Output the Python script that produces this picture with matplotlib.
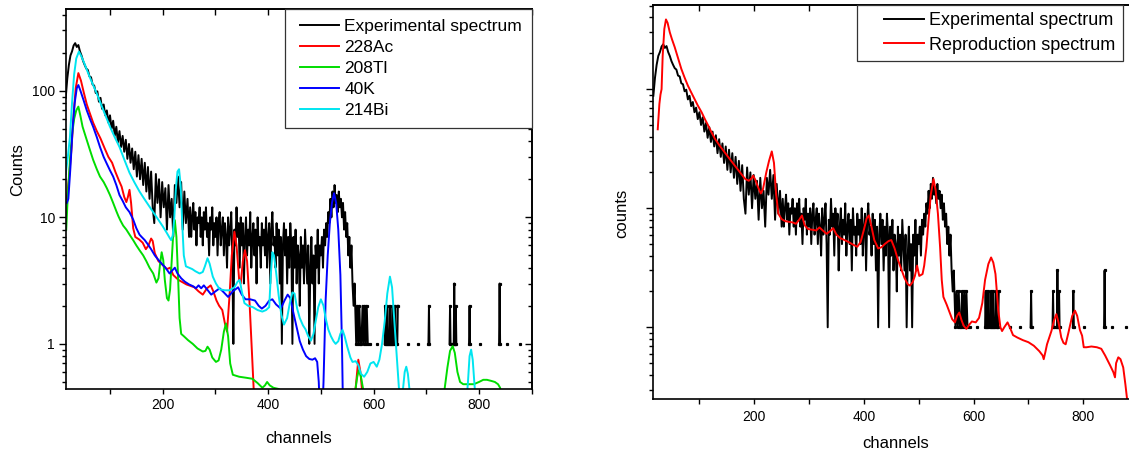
import numpy as np
import matplotlib
matplotlib.use("Agg")
import matplotlib.pyplot as plt
from matplotlib.ticker import MultipleLocator, FormatStrFormatter, NullFormatter
from matplotlib.legend_handler import HandlerLine2D
from matplotlib.lines import Line2D

plt.rcParams['font.family'] = ['Liberation Sans', 'DejaVu Sans']

# ---- experimental spectrum (counts) ----
# every 3rd channel from 16 to 250
exp_ch_a = np.arange(16, 251, 3)
exp_counts_a = [
    88, 125, 160, 190, 205, 228, 238, 222, 230, 205,
    190, 172, 160, 150, 146, 130, 128, 112, 110, 96,
    99, 82, 88, 72, 78, 64, 70, 56, 64, 50,
    58, 44, 52, 39, 48, 36, 44, 33, 41, 29,
    38, 27, 35, 24, 33, 21, 31, 20, 29, 18,
    27, 16, 25, 14, 23, 12, 9, 22, 13, 20,
    10, 19, 12, 17, 8, 18, 10, 14, 7, 18,
    13, 21, 12, 19, 8, 16, 9, 14, 7,
]
# every 2nd channel from 252 to 564
exp_ch_b = np.arange(252, 565, 2)
exp_counts_b = [
    12, 7, 10, 13, 8, 11, 6, 10, 9, 12,
    7, 10, 6, 11, 8, 12, 7, 9, 5, 10,
    8, 12, 6, 9, 7, 10, 5, 9, 11, 6,
    8, 10, 5, 9, 7, 4, 10, 6, 8, 11,
    5, 1, 8, 6, 12, 7, 9, 4, 10, 6,
    9, 3, 7, 10, 5, 8, 6, 11, 4, 7,
    9, 5, 8, 3, 10, 6, 7, 4, 9, 6,
    8, 5, 10, 4, 7, 9, 3, 8, 11, 6,
    7, 4, 9, 5, 8, 3, 7, 1, 6, 9,
    5, 8, 3, 7, 4, 9, 6, 1, 7, 4,
    8, 3, 6, 5, 2, 7, 4, 6, 3, 8,
    5, 3, 6, 1, 4, 7, 3, 5, 1, 6,
    4, 8, 3, 6, 5, 7, 4, 8, 6, 9,
    7, 11, 9, 14, 10, 16, 12, 18, 13, 15,
    11, 16, 12, 14, 10, 13, 8, 11, 7, 9,
    5, 7, 4, 6, 3, 2, 3,
]
# sparse tail (0 = empty channel)
exp_tail_channels = [567, 569, 571, 573, 575, 577, 579, 581, 583, 585, 587, 589, 590,
                     593, 594, 595, 606, 607, 608,
                     620, 621, 622, 623, 625, 626, 627, 628, 630, 631, 632, 633,
                     635, 636, 637, 638, 640, 641, 642, 643, 645, 646, 647,
                     665, 666, 667, 684, 685, 686,
                     703, 704, 705, 706, 707,
                     743, 744, 745, 746, 747, 751, 752, 753, 754, 755, 756, 757, 758,
                     780, 781, 782, 783, 784, 800, 801, 802,
                     837, 838, 839, 840, 841, 852, 853, 854, 877, 878, 879]
exp_tail_counts = [1, 2, 1, 2, 1, 1, 2, 1, 2, 1, 2, 1, 0,
                   0, 1, 0, 0, 1, 0,
                   0, 1, 2, 1, 1, 2, 1, 0, 1, 2, 1, 1,
                   1, 2, 1, 0, 1, 2, 1, 1, 1, 2, 0,
                   0, 1, 0, 0, 1, 0,
                   0, 1, 2, 1, 0,
                   0, 1, 2, 1, 0, 1, 1, 3, 1, 1, 2, 1, 0,
                   0, 1, 2, 1, 0, 0, 1, 0,
                   0, 1, 3, 1, 0, 0, 1, 0, 0, 1, 0]

# ---- component spectra ----
ac228_ch = [18, 22, 27, 31, 35, 40, 45, 50, 56, 62, 68, 75, 82, 90, 97, 104, 110, 117,
            122, 127, 131, 134, 137, 140, 144, 148, 155, 162, 168, 173, 178, 181, 185,
            192, 200, 208, 214, 220, 230, 245, 260, 268, 276, 284, 291, 296, 302, 307,
            313, 318, 322, 327, 331, 336, 340, 345, 348, 352, 356, 360, 365, 369, 373,
            378, 560, 566, 571, 575, 580, 584]
ac228 = [14, 20, 35, 65, 105, 138, 120, 98, 78, 66, 56, 48, 42, 35, 30, 27, 23, 19.5,
         17.5, 14.5, 13.2, 14.5, 16.5, 13, 8.2, 7, 6.7, 6.3, 5.6, 6.0, 6.8, 6.5, 5.2,
         4.5, 4.2, 3.9, 4.0, 3.5, 3.2, 2.95, 2.8, 2.6, 2.45, 2.75, 2.9, 2.6, 2.2, 2.0,
         1.85, 1.45, 1.25, 2.5, 5.0, 7.7, 6.0, 3.2, 3.0, 4.5, 5.5, 4.5, 2.0, 0.9, 0.4,
         0.2, 0.2, 0.45, 0.75, 0.6, 0.35, 0.2]

tl208_ch = [17, 20, 24, 28, 32, 36, 40, 44, 48, 55, 62, 68, 75, 81, 88, 94, 100, 106,
            112, 116, 120, 125, 131, 138, 144, 150, 156, 163, 169, 175, 182, 188, 192,
            195, 198, 201, 204, 208, 211, 214, 217, 220, 223, 226, 229, 232, 235, 240,
            248, 257, 266, 276, 281, 285, 289, 294, 301, 306, 311, 316, 320, 324, 328,
            333, 345, 358, 370, 380, 389, 394, 398, 403, 410, 420, 426, 430, 560, 565,
            569, 572, 576, 581, 585, 731, 735, 740, 745, 750, 754, 759, 764, 770, 780,
            790, 800, 808, 815, 823, 830, 836, 840, 844]
tl208 = [8, 15, 28, 45, 60, 70, 75, 63, 52, 42, 34, 28.5, 24, 21, 19, 17, 15, 13,
         11.2, 10.2, 9.4, 8.6, 8.0, 7.2, 6.6, 6.0, 5.5, 5.0, 4.5, 4.0, 3.6, 3.05, 3.3,
         4.3, 5.3, 4.6, 3.2, 2.3, 2.2, 2.7, 4.5, 7.5, 9.5, 7, 3.5, 1.6, 1.2, 1.15,
         1.07, 1.0, 0.92, 0.87, 0.88, 0.95, 0.9, 0.78, 0.72, 0.74, 0.9, 1.25, 1.45, 1.15, 0.7,
         0.57, 0.55, 0.54, 0.53, 0.49, 0.45, 0.47, 0.5, 0.47, 0.45, 0.44, 0.42, 0.3, 0.3, 0.42,
         0.55, 0.62, 0.55, 0.42, 0.3, 0.3, 0.45, 0.65, 0.88, 0.96, 0.85, 0.6, 0.5, 0.48, 0.48,
         0.48, 0.5, 0.52, 0.52, 0.51, 0.5, 0.48, 0.45, 0.3]

k40_ch = [18, 21, 25, 29, 33, 37, 40, 44, 50, 56, 62, 68, 75, 81, 88, 94, 100, 106, 112,
          118, 124, 130, 137, 144, 150, 156, 160, 166, 172, 178, 185, 192, 198, 204, 209,
          213, 218, 223, 228, 235, 242, 250, 258, 263, 268, 273, 278, 284, 292, 300, 308,
          316, 324, 333, 343, 350, 357, 366, 375, 382, 388, 395, 402, 408, 415, 424, 431,
          437, 442, 448, 455, 460, 466, 472, 478, 484, 489, 493, 496, 498, 503, 505, 509,
          513, 517, 521, 525, 529, 533, 537, 540, 542]
k40 = [13, 14, 25, 50, 80, 105, 111, 100, 84, 70, 60, 52, 43, 36, 30, 26.5, 23.5, 21, 18,
       15, 13.5, 12, 11, 9.6, 8.2, 7.3, 7.0, 6.6, 6.1, 5.6, 5.0, 4.6, 4.3, 4.05, 3.8,
       3.6, 3.8, 4.0, 3.6, 3.3, 3.1, 2.95, 2.85, 2.75, 2.9, 2.75, 2.9, 2.7, 2.45, 2.6, 2.75,
       2.55, 2.35, 2.6, 2.8, 2.45, 2.25, 2.25, 2.2, 2.0, 1.9, 2.0, 2.2, 2.25, 2.05, 1.9, 2.2,
       2.45, 2.3, 1.75, 1.3, 1.05, 0.9, 0.8, 0.76, 0.75, 0.77, 0.72, 0.5, 0.3, 0.3, 0.5, 2.2,
       5, 9, 13, 15.5, 13, 8, 3.5, 1, 0.3]

bi214_ch = [16, 20, 24, 28, 32, 36, 41, 45, 50, 56, 62, 68, 75, 81, 90, 100, 109, 118,
            128, 137, 146, 156, 165, 173, 182, 190, 200, 208, 213, 216, 219, 222, 225,
            228, 231, 234, 237, 240, 244, 250, 256, 262, 270, 276, 280, 285, 289, 295,
            301, 308, 318, 327, 336, 342, 346, 350, 355, 362, 371, 380, 389, 396, 402,
            405, 408, 411, 415, 420, 425, 430, 436, 441, 446, 450, 455, 460, 466, 471,
            476, 481, 486, 490, 495, 500, 505, 509, 514, 519, 524, 528, 533, 537, 541,
            545, 550, 556, 560, 566, 571, 576, 582, 588, 594, 600, 606, 611, 616, 621,
            626, 631, 635, 639, 643, 648, 652, 656, 659, 662, 665, 669, 672, 775, 779,
            782, 785, 788, 791, 795]
bi214 = [22, 30, 43, 80, 135, 180, 204, 190, 170, 147, 127, 111, 95, 82, 66, 52, 43, 36,
         28, 22.5, 19, 16, 14, 12.5, 11, 9.8, 8.5, 7.5, 6.9, 6.6, 7.2, 10, 17,
         23, 24, 18, 9, 5, 4.1, 4.0, 3.9, 3.75, 3.6, 3.7, 4.1, 4.75, 4.3, 3.4,
         3.0, 2.7, 2.65, 2.65, 2.8, 3.1, 3.2, 2.6, 2.1, 2.0, 1.95, 1.85, 1.8, 1.85, 1.95,
         3.5, 5.3, 5.0, 3.7, 2.4, 1.7, 1.42, 1.6, 2.1, 2.55, 2.5, 1.9, 1.6, 1.4, 1.3,
         1.15, 1.06, 1.2, 1.5, 1.95, 2.25, 2.0, 1.6, 1.3, 1.15, 1.05, 1.0, 1.05, 1.2, 1.29,
         1.15, 0.95, 0.78, 0.72, 0.73, 0.68, 0.58, 0.55, 0.6, 0.7, 0.72, 0.66, 0.75, 1.0, 1.5,
         2.5, 3.4, 2.8, 1.6, 0.9, 0.45, 0.35, 0.45, 0.6, 0.66, 0.58, 0.4, 0.3, 0.3, 0.5,
         0.8, 0.9, 0.75, 0.5, 0.3]

# ---- reproduction spectrum ----
repro_ch = [24, 27, 29, 31, 33, 36, 39, 42, 46, 50, 55, 61, 67, 73, 79, 85, 91, 97, 104,
            110, 116, 122, 128, 137, 146, 155, 164, 173, 183, 190, 195, 198, 202, 207, 212,
            216, 222, 227, 232, 236, 240, 244, 250, 256, 262, 270, 276, 282, 287, 292, 298,
            306, 313, 319, 325, 332, 338, 344, 350, 357, 365, 372, 380, 388, 394, 400, 405,
            409, 413, 419, 426, 432, 438, 445, 450, 456, 462, 468, 474, 480, 484, 489, 493,
            497, 501, 507, 510, 514, 518, 522, 527, 531, 535, 539, 542, 545, 551, 556, 561,
            566, 570, 574, 578, 582, 587, 592, 597, 604, 610, 616, 621, 627, 632, 636, 640,
            645, 649, 652, 656, 662, 667, 672, 680, 690, 700, 710, 720, 726, 728, 731, 734,
            742, 747, 751, 755, 760, 764, 768, 773, 780, 785, 789, 794, 798, 801, 806, 815,
            825, 833, 840, 849, 855, 858, 860, 864, 868, 873, 877, 880, 884]
repro = [46, 75, 90, 100, 190, 320, 385, 360, 300, 262, 225, 182, 148, 125, 107, 94, 83,
         73, 64, 56, 49.5, 43.5, 38.5, 33.5, 29.5, 26, 23, 20.3, 17.7, 17, 17.8, 18.8, 17.3,
         15, 13.3, 14.5, 20, 25, 30, 24, 13, 9, 8.1, 7.8, 7.7, 7.6, 7.4, 8.0, 8.7, 7.2, 6.7,
         6.6, 6.5, 6.9, 6.5, 6.1, 6.4, 6.8, 6.0, 5.6, 5.4, 5.2, 4.95, 4.75, 5.2, 6.6, 8.2,
         8.7, 7.3, 5.4, 4.6, 4.7, 5.0, 5.3, 5.4, 4.6, 3.7, 3.1, 2.6, 2.3, 2.24, 2.4, 2.7,
         3.3, 2.7, 2.8, 3.3, 4.7, 8, 13, 17.6, 14, 9, 4.7, 2.5, 1.8, 1.55, 1.35, 1.17,
         1.1, 1.25, 1.33, 1.15, 1.03, 0.97, 1.05, 1.12, 1.1, 1.2, 1.6, 2.5, 3.4, 3.86, 3.5, 2.8,
         1.4, 1.0, 0.93, 1.0, 1.1, 0.98, 0.86, 0.82, 0.78, 0.75, 0.70, 0.63, 0.58, 0.54, 0.62, 0.72,
         0.93, 1.15, 1.29, 1.1, 0.82, 0.74, 0.72, 0.9, 1.25, 1.38, 1.25, 0.95, 0.85, 0.68, 0.68, 0.69,
         0.68, 0.66, 0.58, 0.48, 0.42, 0.38, 0.5, 0.56, 0.54, 0.46, 0.33, 0.25, 0.18]


class ShortLine(HandlerLine2D):
    # legend line that leaves some empty room on its left
    def __init__(self, cut, **kw):
        super().__init__(**kw)
        self.cut = cut

    def create_artists(self, legend, orig_handle, xdescent, ydescent, width, height, fontsize, trans):
        c = width * self.cut
        return super().create_artists(legend, orig_handle, xdescent - c, ydescent,
                                      width - c, height, fontsize, trans)


def style_axes(ax, ylim, xpad, right_ticks):
    ax.set_yscale('log')
    ax.set_xlim(16, 900)
    ax.set_ylim(*ylim)
    ax.xaxis.set_major_locator(MultipleLocator(200))
    ax.xaxis.set_minor_locator(MultipleLocator(100))
    ax.yaxis.set_minor_formatter(NullFormatter())
    ax.tick_params(which='both', direction='out', top=False, right=False, width=1, labelsize=10)
    ax.tick_params(axis='y', which='major', length=5, pad=2.7)
    ax.tick_params(axis='y', which='minor', length=3)
    ax.tick_params(axis='x', which='major', length=3.5, pad=xpad)
    ax.tick_params(axis='x', which='minor', length=3.5)
    for s in ax.spines.values():
        s.set_linewidth(1.2)
    secx = ax.secondary_xaxis('top')
    secx.xaxis.set_major_locator(MultipleLocator(200))
    secx.xaxis.set_minor_locator(MultipleLocator(100))
    secx.tick_params(which='both', direction='in', labeltop=False, width=1, length=4)
    secx.spines['top'].set_linewidth(1.2)
    if right_ticks:
        secy = ax.secondary_yaxis('right')
        secy.yaxis.set_major_formatter(NullFormatter())
        secy.yaxis.set_minor_formatter(NullFormatter())
        secy.tick_params(which='major', direction='in', length=5, width=1, labelright=False)
        secy.tick_params(which='minor', direction='in', length=3, width=1, labelright=False)
        secy.spines['right'].set_linewidth(1.2)


fig = plt.figure(figsize=(11.29, 4.53), dpi=100)
ax1 = fig.add_axes([0.0582, 0.1413, 0.4128, 0.838])
ax2 = fig.add_axes([0.5787, 0.1192, 0.4293, 0.870])

exp_ch_all = np.concatenate([exp_ch_a, exp_ch_b, exp_tail_channels])
exp_all = np.concatenate([exp_counts_a, exp_counts_b, exp_tail_counts]).astype(float)
exp_all[exp_all <= 0] = np.nan
tail_vals = np.array(exp_tail_counts, dtype=float)
tail_vals[tail_vals <= 0] = np.nan

# left panel
ax1.plot(exp_ch_all, exp_all, color='black', lw=1.4, label='Experimental spectrum')
ax1.plot(exp_tail_channels, tail_vals, ls='none', marker='s', ms=1.3, color='black')
ax1.plot(ac228_ch, ac228, color='#ff0000', lw=1.4, label='228Ac')
ax1.plot(tl208_ch, tl208, color='#00dd00', lw=1.4, label='208Tl')
ax1.plot(k40_ch, k40, color='#0000ff', lw=1.4, label='40K')
ax1.plot(bi214_ch, bi214, color='#00e5f0', lw=1.4, label='214Bi')
style_axes(ax1, (0.44, 440), 3.0, True)
ax1.yaxis.set_major_formatter(FormatStrFormatter('%g'))
ax1.set_xlabel('channels', fontsize=12)
ax1.set_ylabel('Counts', fontsize=12)
ax1.xaxis.set_label_coords(0.5, -0.11)
ax1.yaxis.set_label_coords(-0.088, 0.577)
leg1 = ax1.legend(loc='upper right', bbox_to_anchor=(1.0, 1.0), borderaxespad=0, fontsize=12.5,
                  frameon=True, fancybox=False, framealpha=1, edgecolor='#333333',
                  borderpad=0.55, labelspacing=0.34, handlelength=2.55, handletextpad=0.34,
                  handler_map={Line2D: ShortLine(0.13)})
leg1.get_frame().set_linewidth(0.9)

# right panel
ax2.plot(exp_ch_all, exp_all, color='black', lw=1.4, label='Experimental spectrum')
ax2.plot(exp_tail_channels, tail_vals, ls='none', marker='s', ms=1.3, color='black')
ax2.plot(repro_ch, repro, color='#ff0000', lw=1.4, label='Reproduction spectrum')
style_axes(ax2, (0.25, 510), 4.6, False)
ax2.yaxis.set_major_formatter(NullFormatter())
ax2.set_xlabel('channels', fontsize=12)
ax2.set_ylabel('counts', fontsize=12)
ax2.xaxis.set_label_coords(0.5, -0.094)
ax2.yaxis.set_label_coords(-0.049, 0.472)
leg2 = ax2.legend(loc='upper left', bbox_to_anchor=(0.42, 1.0), borderaxespad=0, fontsize=13,
                  frameon=True, fancybox=False, framealpha=1, edgecolor='#333333',
                  borderpad=0.4, labelspacing=0.41, handlelength=3.3, handletextpad=0.3,
                  handler_map={Line2D: ShortLine(0.33)})
leg2.get_frame().set_linewidth(0.9)

fig.savefig('out.png', dpi=100, facecolor='white')
